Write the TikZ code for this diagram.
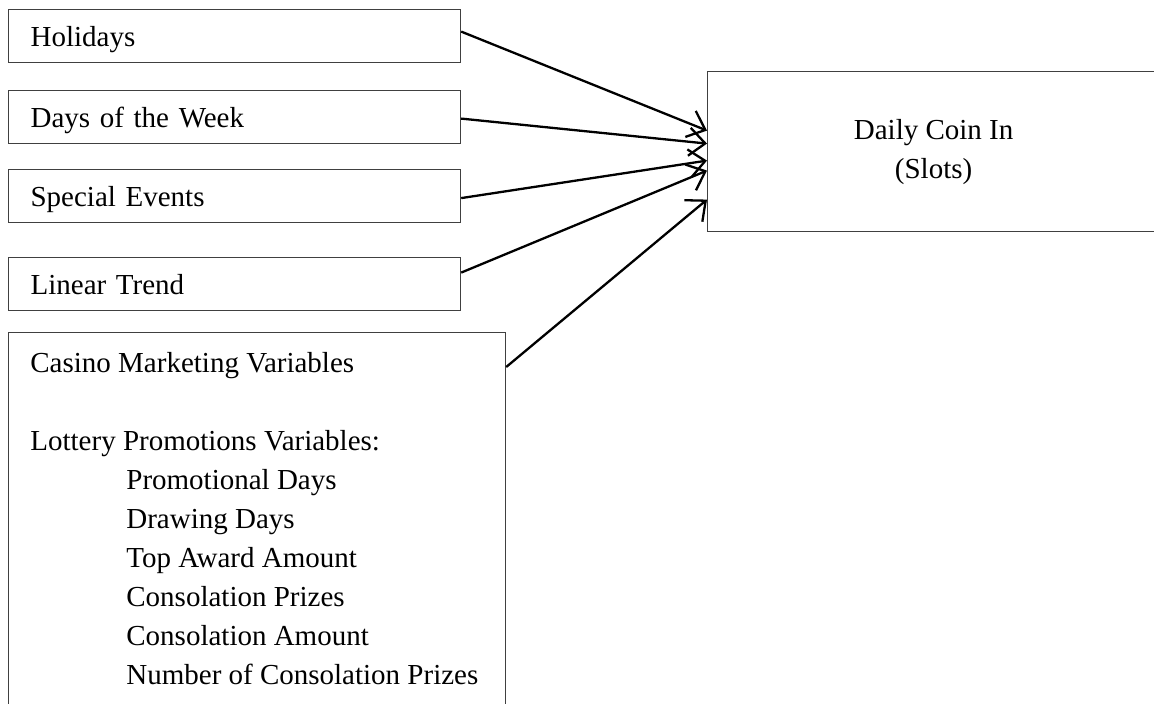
\documentclass[tikz,border=0pt]{standalone}
\usepackage{fontspec}
\setmainfont{Liberation Serif}
\usetikzlibrary{arrows.meta}
\begin{document}
\begin{tikzpicture}[x=0.5pt, y=-0.5pt, font=\fontsize{14.5}{19.5}\selectfont,
	box/.style={draw=black!75, line width=0.6pt, anchor=north west, minimum width=226pt, minimum height=26.5pt, text width=204pt, inner xsep=11pt, align=left, text depth=0pt},
	arr/.style={-{Straight Barb[length=8pt,width=14pt]}, line width=1.15pt}]
	\useasboundingbox (0,0) rectangle (1154,704);
	\clip (0,0) rectangle (1154,704);
	\node[box] (hol) at (8,9) {Holidays};
	\node[box] (dow) at (8,90) {Days of the Week};
	\node[box] (spev) at (8,169) {Special Events};
	\node[box] (trend) at (8,257) {Linear Trend};
	\node[draw=black!75, line width=0.6pt, anchor=north west, minimum width=248.5pt, minimum height=200pt, inner sep=0pt] (casino) at (8,332) {};
	\node[anchor=north west, align=left, inner sep=0pt] (mkt) at (30,352.4) {Casino Marketing Variables\\[19.5pt]
		Lottery Promotions Variables:\\
		\hspace*{48pt}Promotional Days\\
		\hspace*{48pt}Drawing Days\\
		\hspace*{48pt}Top Award Amount\\
		\hspace*{48pt}Consolation Prizes\\
		\hspace*{48pt}Consolation Amount\\
		\hspace*{48pt}Number of Consolation Prizes};
	\node[draw=black!75, line width=0.6pt, anchor=north west, minimum width=226pt, minimum height=80pt, align=center] (coin) at (707,71) {Daily Coin In\\(Slots)};
	\draw[arr] ([yshift=2.25pt]hol.east) -- ([yshift=10.5pt]coin.west);
	\draw[arr] ([yshift=-0.75pt]dow.east) -- ([yshift=4pt]coin.west);
	\draw[arr] ([yshift=-1pt]spev.east) -- ([yshift=-4.5pt]coin.west);
	\draw[arr] ([yshift=5.75pt]trend.east) -- ([yshift=-9.5pt]coin.west);
	\draw[arr] ([yshift=-17.5pt]casino.north east) -- ([yshift=-24pt]coin.west);
\end{tikzpicture}
\end{document}
